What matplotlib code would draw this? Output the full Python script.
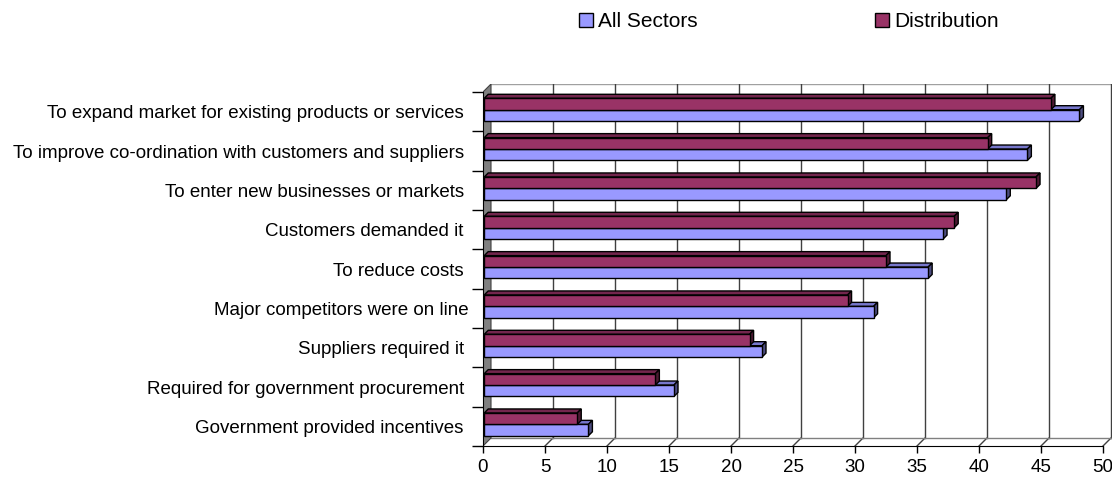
import matplotlib
matplotlib.use("Agg")
import matplotlib.pyplot as plt
from matplotlib.patches import Polygon, Patch

plt.rcParams['font.family'] = ['Liberation Sans', 'DejaVu Sans']

# Reasons for going online, top to bottom
categories = [
    'To expand market for existing products or services ',
    'To improve co-ordination with customers and suppliers ',
    'To enter new businesses or markets ',
    'Customers demanded it ',
    'To reduce costs ',
    'Major competitors were on line',
    'Suppliers required it ',
    'Required for government procurement ',
    'Government provided incentives ',
]
all_sectors = [48.0, 43.8, 42.1, 37.0, 35.8, 31.4, 22.4, 15.3, 8.4]
distribution = [45.7, 40.6, 44.5, 37.9, 32.4, 29.3, 21.4, 13.8, 7.5]
x_ticks = list(range(0, 55, 5))
series_names = ['All Sectors', 'Distribution']

W, H = 1112, 479
fig = plt.figure(figsize=(W / 100, H / 100), dpi=100)

# plot box in pixels: value 0 at x=483, 12.4 px per unit; rows 39.33 px
px_unit = 12.4
row_px = 39.33
wall_dx, wall_dy = 8 / px_unit, 8 / row_px      # depth of the walls
bar_dx, bar_dy = 4 / px_unit, 4 / row_px        # depth of the bars
xmax = 50 + wall_dx + 0.05
n = len(categories)
ax = fig.add_axes([483 / W, (H - 446) / H, xmax * px_unit / W, (446 - 84) / H])
ax.set_xlim(0, xmax)
ax.set_ylim(n, -wall_dy)

# back wall: top edge and gridlines
ax.plot([wall_dx, 50 + wall_dx], [-wall_dy, -wall_dy], color='#a0a0a0', lw=1, zorder=1)
for v in x_ticks[1:]:
    ax.plot([v + wall_dx, v + wall_dx], [-wall_dy, n - wall_dy], color='#404040', lw=1, zorder=1)
    # floor lines running from front to back
    ax.plot([v, v + wall_dx], [n, n - wall_dy], color='#404040', lw=1, zorder=1)
ax.plot([wall_dx, 50 + wall_dx], [n - wall_dy, n - wall_dy], color='#808080', lw=1, zorder=1)

# left side wall
ax.add_patch(Polygon([(0, 0), (wall_dx, -wall_dy), (wall_dx, n - wall_dy), (0, n)],
                     closed=True, facecolor='#808080', edgecolor='#404040', lw=0.8, zorder=2))

colors = {
    'All Sectors': ('#9999ff', '#7777cc', '#4d4d80'),
    'Distribution': ('#993366', '#73264d', '#4d1a33'),
}
offsets = {'All Sectors': 0.45, 'Distribution': 0.16}
bar_h = 0.29


def draw_bars(values, name, z):
    front, top, side = colors[name]
    ys = [i + offsets[name] + bar_h / 2 for i in range(n)]
    ax.barh(ys, values, height=bar_h, left=0.1, color=front, edgecolor='black', lw=1, zorder=z + 0.2)
    for y, v in zip(ys, values):
        y0 = y - bar_h / 2
        y1 = y + bar_h / 2
        x1 = 0.1 + v
        ax.add_patch(Polygon([(0.1, y0), (0.1 + bar_dx, y0 - bar_dy), (x1 + bar_dx, y0 - bar_dy), (x1, y0)],
                             closed=True, facecolor=top, edgecolor='black', lw=1, zorder=z))
        ax.add_patch(Polygon([(x1, y0), (x1 + bar_dx, y0 - bar_dy), (x1 + bar_dx, y1 - bar_dy), (x1, y1)],
                             closed=True, facecolor=side, edgecolor='black', lw=1, zorder=z))


draw_bars(all_sectors, 'All Sectors', 3)
draw_bars(distribution, 'Distribution', 4)

# axes, ticks and labels
for s in ['top', 'right']:
    ax.spines[s].set_visible(False)
ax.spines['bottom'].set_bounds(0, 50)
ax.spines['left'].set_bounds(0, n)
ax.set_xticks(x_ticks)
ax.set_xticklabels([str(t) for t in x_ticks], fontsize=13.5)
ax.tick_params(axis='x', length=5, width=1, pad=4.5)
ax.set_yticks([i + 0.5 for i in range(n)])
ax.set_yticklabels(categories, fontsize=13.5)
ax.set_yticks(range(n + 1), minor=True)
ax.tick_params(axis='y', which='major', length=0, pad=10)
ax.tick_params(axis='y', which='minor', length=8, width=1)
ax.patch.set_alpha(0)

handles = [Patch(facecolor=colors[s][0], edgecolor='black', lw=1) for s in series_names]
fig.legend(handles, series_names, loc='upper left', bbox_to_anchor=(579 / W, 1 - 12 / H),
           ncol=2, frameon=False, fontsize=15, handlelength=0.68, handleheight=0.68,
           handletextpad=0.25, columnspacing=8.5, borderpad=0, borderaxespad=0)

fig.savefig('out.png', dpi=100)
